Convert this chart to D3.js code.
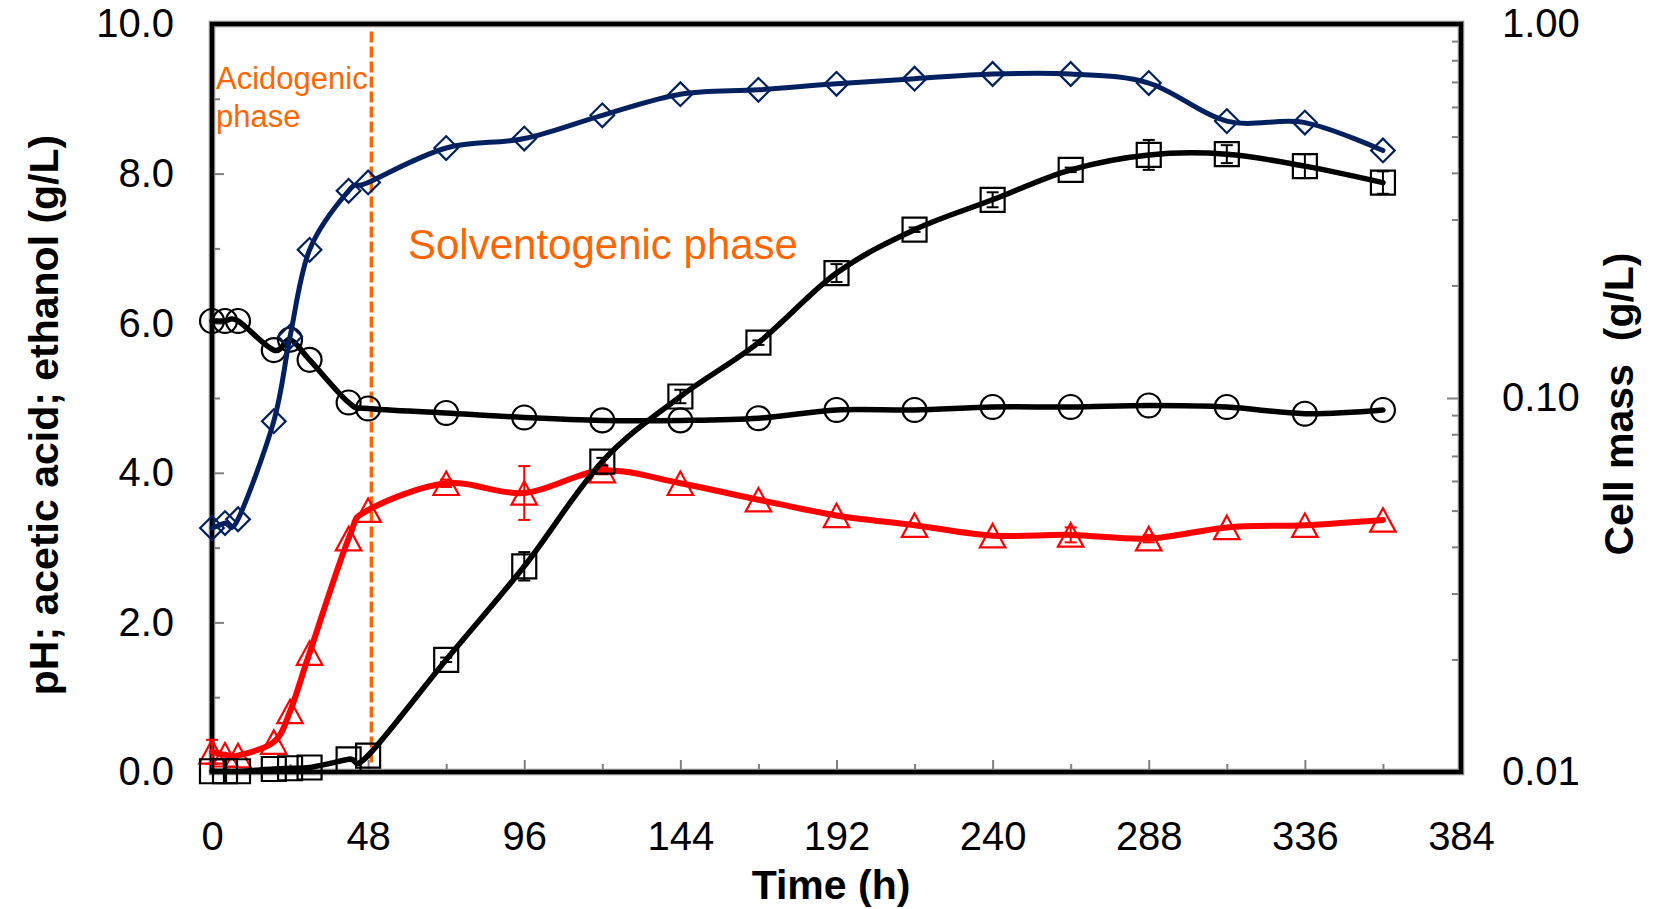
<!DOCTYPE html>
<html>
<head>
<meta charset="utf-8">
<script src="https://cdn.jsdelivr.net/npm/d3@7"></script>
<style>
  body { margin: 0; background: #fff; }
  svg text { font-family: "Liberation Sans", Arial, sans-serif; }
</style>
</head>
<body>
<svg id="chart"></svg>
<script>
// Sampling times (h)
var times = [0, 4, 8, 19, 24, 30, 42, 48, 72, 96, 120, 144, 168, 192, 216, 240, 264, 288, 312, 336, 360];

// pH (circles)
var pH = [6.03, 6.03, 6.03, 5.64, 5.78, 5.51, 4.94, 4.86, 4.80, 4.74, 4.70, 4.70, 4.73, 4.84, 4.84, 4.88, 4.88, 4.90, 4.88, 4.79, 4.84];

// acetic acid g/L (triangles) and its error
var acetic = [0.27, 0.23, 0.22, 0.40, 0.81, 1.59, 3.12, 3.50, 3.86, 3.73, 4.03, 3.86, 3.64, 3.43, 3.30, 3.16, 3.17, 3.12, 3.27, 3.30, 3.37];
var aceticErr = [0.16, 0, 0, 0, 0, 0, 0, 0, 0.05, 0.36, 0.05, 0, 0, 0, 0, 0, 0.1, 0.05, 0, 0, 0];

// ethanol g/L (squares) and its error
var ethanol = [0.01, 0.01, 0.01, 0.04, 0.05, 0.06, 0.17, 0.22, 1.50, 2.75, 4.15, 5.02, 5.74, 6.67, 7.25, 7.65, 8.05, 8.25, 8.26, 8.10, 7.88];
var ethanolErr = [0, 0, 0, 0, 0, 0, 0, 0, 0.03, 0.19, 0.05, 0.09, 0.03, 0.12, 0.03, 0.1, 0.03, 0.2, 0.12, 0.16, 0.15];

// cell mass g/L (diamonds, right log axis)
var cellMass = [0.0449, 0.0463, 0.0474, 0.0867, 0.146, 0.249, 0.358, 0.377, 0.466, 0.494, 0.570, 0.649, 0.667, 0.692, 0.714, 0.735, 0.735, 0.695, 0.550, 0.545, 0.459];

// Axis ticks
var xTicks = [0, 48, 96, 144, 192, 240, 288, 336, 384];
var yTicks = [0, 2, 4, 6, 8, 10];
var y2Ticks = [0.01, 0.1, 1];

var width = 1654, height = 909;
var plot = { left: 212, right: 1461, top: 24, bottom: 772 };

var svg = d3.select("#chart")
    .attr("width", width)
    .attr("height", height);

svg.append("rect")
    .attr("width", width)
    .attr("height", height)
    .attr("fill", "white");

var x = d3.scaleLinear().domain([0, 384]).range([plot.left, plot.right]);
var y = d3.scaleLinear().domain([0, 10]).range([plot.bottom, plot.top]);
var y2 = d3.scaleLog().domain([0.01, 1]).range([plot.bottom, plot.top]);

var tickGray = "#808080";

// minor ticks first
svg.append("g")
    .attr("transform", "translate(" + plot.left + ",0)")
    .call(d3.axisLeft(y).tickValues(d3.range(1, 10, 2)).tickSize(-8).tickFormat(""))
    .call(g => g.select(".domain").remove());

svg.append("g")
    .attr("transform", "translate(0," + plot.bottom + ")")
    .call(d3.axisBottom(x).tickValues(d3.range(24, 384, 48)).tickSize(-8).tickFormat(""))
    .call(g => g.select(".domain").remove());

var logMinor = [];
[0.01, 0.1].forEach(function(b) { for (var k = 2; k <= 9; k++) logMinor.push(b * k); });
svg.append("g")
    .attr("transform", "translate(" + plot.right + ",0)")
    .call(d3.axisRight(y2).tickValues(logMinor).tickSize(-9).tickFormat(""))
    .call(g => g.select(".domain").remove());

// major axes with labels
var yAxis = svg.append("g")
    .attr("transform", "translate(" + plot.left + ",0)")
    .call(d3.axisLeft(y).tickValues(yTicks).tickSizeInner(-12).tickSizeOuter(0).tickPadding(38).tickFormat(d3.format(".1f")));

var xAxis = svg.append("g")
    .attr("transform", "translate(0," + plot.bottom + ")")
    .call(d3.axisBottom(x).tickValues(xTicks).tickSizeInner(-12).tickSizeOuter(0).tickPadding(50));

var y2Axis = svg.append("g")
    .attr("transform", "translate(" + plot.right + ",0)")
    .call(d3.axisRight(y2).tickValues(y2Ticks).tickSizeInner(-14).tickSizeOuter(0).tickPadding(41).tickFormat(d3.format(".2f")));

[yAxis, xAxis, y2Axis].forEach(function(g) {
    g.select(".domain").remove();
    g.selectAll("text").attr("font-size", 40).attr("fill", "#000");
});
svg.selectAll(".tick line").attr("stroke", tickGray).attr("stroke-width", 2);

// plot frame (Excel style: gray edge under black line)
svg.append("rect")
    .attr("x", plot.left).attr("y", plot.top)
    .attr("width", plot.right - plot.left).attr("height", plot.bottom - plot.top)
    .attr("fill", "none").attr("stroke", tickGray).attr("stroke-width", 6.5);
svg.append("rect")
    .attr("x", plot.left).attr("y", plot.top)
    .attr("width", plot.right - plot.left).attr("height", plot.bottom - plot.top)
    .attr("fill", "none").attr("stroke", "#000").attr("stroke-width", 4);

// phase divider
svg.append("line")
    .attr("x1", x(49)).attr("x2", x(49))
    .attr("y1", y(9.9)).attr("y2", y(0.12))
    .attr("stroke", "#ff6600").attr("stroke-width", 3.5)
    .attr("stroke-dasharray", "11,4");

// custom markers
var triangleUp = {
    draw: function(ctx, size) {
        var w = Math.sqrt(size), h = w * 0.92;
        ctx.moveTo(0, -h / 2);
        ctx.lineTo(w / 2, h / 2);
        ctx.lineTo(-w / 2, h / 2);
        ctx.closePath();
    }
};

var series = [
    { values: pH, err: null, scale: y, color: "#000", lineWidth: 5.5, symbol: d3.symbolCircle, size: 450, rotate: 0, markerColor: "#000" },
    { values: acetic, err: aceticErr, scale: y, color: "#ff0000", lineWidth: 6, symbol: triangleUp, size: 650, rotate: 0, markerColor: "#ff0000" },
    { values: ethanol, err: ethanolErr, scale: y, color: "#000", lineWidth: 5.5, symbol: d3.symbolSquare, size: 576, rotate: 0, markerColor: "#000" },
    { values: cellMass, err: null, scale: y2, color: "#002060", lineWidth: 5, symbol: d3.symbolSquare, size: 280, rotate: 45, markerColor: "#002060" }
];

series.forEach(function(s) {
    var pts = times.map(function(t, i) { return { t: t, v: s.values[i], e: s.err ? s.err[i] : 0 }; });
    var line = d3.line()
        .x(d => x(d.t))
        .y(d => s.scale(d.v))
        .curve(d3.curveCardinal.tension(0));

    var g = svg.append("g");

    // error bars
    var eb = g.selectAll(".err")
        .data(pts.filter(d => d.e > 0))
        .enter().append("g");
    eb.append("line")
        .attr("x1", d => x(d.t)).attr("x2", d => x(d.t))
        .attr("y1", d => s.scale(d.v - d.e)).attr("y2", d => s.scale(d.v + d.e))
        .attr("stroke", s.markerColor).attr("stroke-width", 2);
    [-1, 1].forEach(function(sign) {
        eb.append("line")
            .attr("x1", d => x(d.t) - 6).attr("x2", d => x(d.t) + 6)
            .attr("y1", d => s.scale(d.v + sign * d.e)).attr("y2", d => s.scale(d.v + sign * d.e))
            .attr("stroke", s.markerColor).attr("stroke-width", 2);
    });

    g.append("path")
        .datum(pts)
        .attr("fill", "none")
        .attr("stroke", s.color)
        .attr("stroke-width", s.lineWidth)
        .attr("stroke-linejoin", "round")
        .attr("stroke-linecap", "round")
        .attr("d", line);

    g.selectAll(".marker")
        .data(pts)
        .enter().append("path")
        .attr("transform", d => "translate(" + x(d.t) + "," + s.scale(d.v) + ") rotate(" + s.rotate + ")")
        .attr("d", d3.symbol().type(s.symbol).size(s.size))
        .attr("fill", "none")
        .attr("stroke", s.markerColor)
        .attr("stroke-width", 2.2);
});

// phase annotations
var ann = svg.append("text")
    .attr("x", 216).attr("y", 89)
    .attr("font-size", 31).attr("fill", "#ff6600");
ann.append("tspan").attr("x", 216).text("Acidogenic");
ann.append("tspan").attr("x", 216).attr("dy", 38).text("phase");

svg.append("text")
    .attr("x", 408).attr("y", 259)
    .attr("font-size", 42).attr("fill", "#ff6600")
    .text("Solventogenic phase");

// axis titles
svg.append("text")
    .attr("transform", "translate(44,415) rotate(-90)")
    .attr("text-anchor", "middle")
    .attr("dominant-baseline", "central")
    .attr("font-size", 41).attr("font-weight", "bold")
    .text("pH; acetic acid; ethanol (g/L)");

svg.append("text")
    .attr("x", 831).attr("y", 899)
    .attr("text-anchor", "middle")
    .attr("font-size", 41).attr("font-weight", "bold")
    .text("Time (h)");

svg.append("text")
    .attr("transform", "translate(1619,404) rotate(-90)")
    .attr("text-anchor", "middle")
    .attr("dominant-baseline", "central")
    .attr("font-size", 41).attr("font-weight", "bold")
    .style("white-space", "pre")
    .text("Cell mass  (g/L)");
</script>
</body>
</html>
